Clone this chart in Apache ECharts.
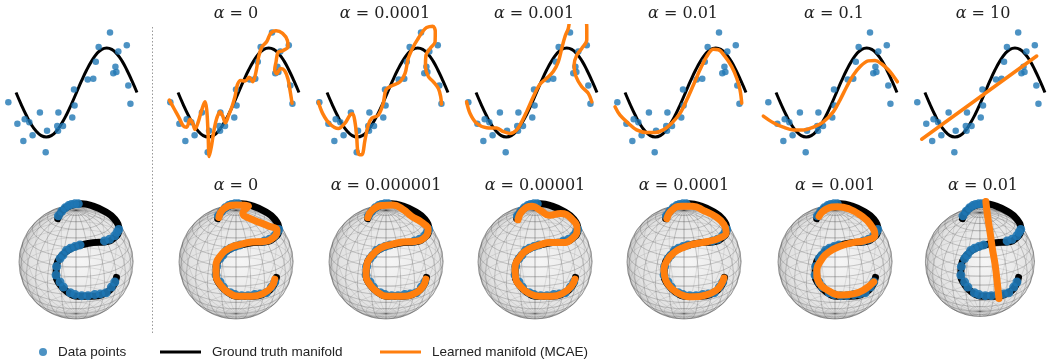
<!DOCTYPE html>
<html>
<head>
<meta charset="utf-8">
<script src="https://cdn.jsdelivr.net/npm/echarts@6/dist/echarts.min.js"></script>
<style>
html, body { margin: 0; padding: 0; background: #fff; }
#chart { width: 1048px; height: 360px; }
</style>
</head>
<body>
<div id="chart"></div>
<script>
// ---- data (top row: sine example) ----
const gtX = [-3.14,-2.88,-2.62,-2.36,-2.09,-1.83,-1.57,-1.31,-1.05,-0.79,-0.52,-0.26,0,0.26,0.52,0.79,1.05,1.31,1.57,1.83,2.09,2.36,2.62,2.88,3.14]
const gtY = [0,-0.26,-0.5,-0.71,-0.87,-0.97,-1,-0.97,-0.87,-0.71,-0.5,-0.26,0,0.26,0.5,0.71,0.87,0.97,1,0.97,0.87,0.71,0.5,0.26,0]

const ptX = [-3.54,-3.07,-2.69,-2.76,-2.45,-2.28,-1.90,-1.53,-1.60,-0.94,-1.00,-0.96,-0.70,-0.22,-0.10,-0.13,0.58,0.87,1.00,1.15,1.74,2.17,2.02,1.91,2.07,2.61,2.69,2.80]
const ptY = [-0.22,-0.70,-0.60,-1.09,-0.67,-0.96,-0.45,-0.86,-1.34,-0.45,-0.75,-0.86,-0.75,-0.56,-0.29,0.07,0.29,0.31,0.69,1.02,1.35,0.92,0.58,0.43,0.46,1.06,0.16,-0.25]

const topAlphas = ['0', '0.0001', '0.001', '0.01', '0.1', '10']

const fitA0 = [[-3.59,-0.17],[-3.35,-0.36],[-3.07,-0.58],[-2.87,-0.75],[-2.69,-0.78],[-2.52,-0.60],[-2.38,-0.69],[-2.26,-0.83],[-2.09,-0.66],[-1.91,-0.39],[-1.74,-0.21],[-1.65,-0.39],[-1.58,-0.92],[-1.52,-1.44],[-1.41,-1.22],[-1.27,-0.84],[-1.13,-0.58],[-0.96,-0.43],[-0.82,-0.53],[-0.68,-0.68],[-0.51,-0.51],[-0.34,-0.32],[-0.18,-0.09],[-0.06,0.17],[0.11,0.27],[0.34,0.26],[0.56,0.34],[0.74,0.24],[0.91,0.47],[1.05,0.81],[1.22,1.03],[1.46,1.14],[1.67,1.33],[1.95,1.39],[2.29,1.33],[2.54,1.17],[2.57,1.03],[2.29,0.94],[2.05,0.90],[1.95,0.69],[1.88,0.51],[1.98,0.42],[2.19,0.54],[2.40,0.49],[2.57,0.30],[2.67,0.06],[2.78,-0.24]]
const fitA1 = [[-3.59,-0.21],[-3.37,-0.47],[-2.99,-0.71],[-2.55,-0.81],[-2.21,-0.69],[-1.95,-0.51],[-1.81,-0.48],[-1.69,-0.66],[-1.60,-0.99],[-1.52,-1.37],[-1.34,-1.40],[-1.17,-1.07],[-1.00,-0.73],[-0.82,-0.58],[-0.48,-0.51],[-0.22,-0.24],[-0.08,0.06],[0.22,0.15],[0.65,0.24],[0.91,0.43],[1.08,0.77],[1.34,1.03],[1.60,1.22],[1.83,1.37],[2.03,1.46],[2.35,1.49],[2.48,1.37],[2.47,1.14],[2.21,0.99],[2.00,0.84],[1.97,0.58],[2.12,0.36],[2.38,0.24],[2.64,0.09],[2.76,-0.09],[2.80,-0.26]]
const fitA2 = [[-3.63,-0.21],[-3.45,-0.47],[-3.11,-0.69],[-2.59,-0.79],[-2.07,-0.80],[-1.72,-0.88],[-1.38,-0.92],[-1.03,-0.84],[-0.77,-0.66],[-0.51,-0.43],[-0.16,-0.09],[0.15,0.17],[0.53,0.32],[0.87,0.47],[1.13,0.69],[1.31,0.99],[1.48,1.26],[1.65,1.44],[1.77,1.67],[2.20,1.85],[2.52,1.71],[2.61,1.44],[2.61,1.18],[2.35,0.99],[2.09,0.84],[1.95,0.62],[2.05,0.36],[2.35,0.13],[2.69,-0.02],[2.87,-0.21]]
const fitA3 = [[-3.66,-0.32],[-3.40,-0.51],[-2.97,-0.69],[-2.54,-0.84],[-2.02,-0.90],[-1.58,-0.90],[-1.15,-0.84],[-0.72,-0.69],[-0.29,-0.47],[0.06,-0.17],[0.41,0.17],[0.75,0.51],[1.10,0.81],[1.45,0.97],[1.71,0.96],[2.05,0.81],[2.40,0.58],[2.66,0.32],[2.83,0.06],[2.92,-0.24]]
const fitA4 = [[-3.80,-0.53],[-3.28,-0.68],[-2.76,-0.78],[-2.24,-0.84],[-1.72,-0.84],[-1.20,-0.78],[-0.68,-0.66],[-0.16,-0.43],[0.18,-0.17],[0.53,0.13],[0.87,0.39],[1.22,0.58],[1.65,0.71],[2.00,0.72],[2.35,0.64],[2.69,0.51],[2.95,0.37],[3.16,0.24]]
const fitA5 = [[-3.31,-1.05],[2.71,0.82]]
const topFits = [fitA0, fitA1, fitA2, fitA3, fitA4, fitA5]

// ---- data (bottom row: curve on the sphere, sphere radius = 1) ----
const bottomAlphas = ['0', '0.000001', '0.00001', '0.0001', '0.001', '0.01']

const sphereTruth = [[-0.32,0.76],[-0.25,0.89],[-0.10,0.99],[0.10,1.02],[0.30,0.98],[0.50,0.89],[0.68,0.75],[0.75,0.57],[0.68,0.43],[0.50,0.35],[0.30,0.34],[0.10,0.30],[-0.10,0.23],[-0.25,0.11],[-0.34,-0.06],[-0.35,-0.24],[-0.29,-0.38],[-0.16,-0.52],[0.04,-0.60],[0.27,-0.60],[0.48,-0.56],[0.64,-0.44],[0.71,-0.27]]
const spherePts = [[-0.31,0.81],[-0.25,0.89],[-0.19,0.95],[-0.13,0.99],[-0.08,1.01],[-0.02,1.02],[0.04,1.02],[0.50,0.37],[0.59,0.40],[0.68,0.46],[0.72,0.52],[0.75,0.57],[0.07,0.30],[-0.02,0.27],[-0.10,0.24],[-0.17,0.20],[-0.23,0.12],[-0.28,0.06],[-0.34,-0.08],[-0.35,-0.23],[-0.28,-0.35],[-0.22,-0.44],[-0.10,-0.54],[-0.02,-0.57],[0.10,-0.59],[0.21,-0.59],[0.33,-0.57],[0.43,-0.56],[0.53,-0.54],[0.62,-0.44],[0.68,-0.35]]

const sFitA = [[-0.30,0.78],[-0.22,0.93],[0.00,1.00],[0.22,0.98],[0.12,0.86],[0.30,0.74],[0.55,0.64],[0.72,0.55],[0.66,0.43],[0.48,0.36],[0.28,0.35],[0.08,0.31],[-0.12,0.24],[-0.27,0.11],[-0.35,-0.06],[-0.35,-0.24],[-0.28,-0.39],[-0.14,-0.53],[0.06,-0.60],[0.28,-0.60],[0.48,-0.55],[0.62,-0.44],[0.68,-0.30]]
const sFitB = [[-0.32,0.78],[-0.25,0.90],[-0.08,0.99],[0.12,1.00],[0.30,0.92],[0.45,0.80],[0.62,0.70],[0.74,0.57],[0.68,0.43],[0.50,0.36],[0.30,0.35],[0.10,0.31],[-0.10,0.24],[-0.25,0.11],[-0.34,-0.06],[-0.35,-0.24],[-0.29,-0.38],[-0.16,-0.52],[0.04,-0.60],[0.27,-0.60],[0.48,-0.56],[0.64,-0.44],[0.70,-0.30]]
const sFitC = [[-0.30,0.74],[-0.22,0.90],[-0.05,0.98],[0.10,0.90],[0.25,0.82],[0.45,0.85],[0.65,0.75],[0.74,0.57],[0.66,0.42],[0.48,0.34],[0.28,0.34],[0.08,0.30],[-0.12,0.22],[-0.27,0.08],[-0.35,-0.10],[-0.34,-0.28],[-0.26,-0.42],[-0.12,-0.54],[0.08,-0.60],[0.30,-0.60],[0.50,-0.54],[0.64,-0.42],[0.70,-0.30]]
const sFitD = [[-0.30,0.76],[-0.22,0.90],[-0.05,0.98],[0.15,0.98],[0.35,0.90],[0.55,0.80],[0.70,0.66],[0.74,0.52],[0.62,0.42],[0.42,0.36],[0.20,0.32],[0.00,0.26],[-0.18,0.16],[-0.30,0.02],[-0.35,-0.16],[-0.32,-0.32],[-0.22,-0.46],[-0.06,-0.57],[0.16,-0.61],[0.38,-0.58],[0.56,-0.50],[0.66,-0.38],[0.70,-0.28]]
const sFitE = [[-0.28,0.80],[-0.15,0.93],[0.05,0.97],[0.25,0.93],[0.45,0.82],[0.62,0.66],[0.70,0.48],[0.55,0.38],[0.32,0.34],[0.10,0.28],[-0.10,0.18],[-0.25,0.02],[-0.32,-0.18],[-0.28,-0.36],[-0.12,-0.50],[0.10,-0.58],[0.32,-0.56],[0.52,-0.48],[0.68,-0.35]]
const sFitF = [[0.11,1.06],[0.14,0.82],[0.19,0.50],[0.23,0.23],[0.28,-0.05],[0.32,-0.37],[0.35,-0.64]]
const sphereFits = [sFitA, sFitB, sFitC, sFitD, sFitE, sFitF]

// ---- layout ----
const topBlackLeft = [16, 178, 327, 476, 625, 776, 925]
const unitX = 19.26, unitY = 44.5
const xMin = -3.85, xMax = 3.3, yMin = -1.5, yMax = 1.5
const sphereCx = [76, 236, 386, 535, 684, 835, 983]
const sphereCy = 262, sphereR = 57
const ELEV = 25 * Math.PI / 180

const BLUE = '#1f77b4', ORANGE = '#ff7f0e'

function project(phi, lam) {
  const cp = Math.cos(phi), sp = Math.sin(phi)
  return [
    cp * Math.sin(lam),
    sp * Math.cos(ELEV) - cp * Math.cos(lam) * Math.sin(ELEV),
    cp * Math.cos(lam) * Math.cos(ELEV) + sp * Math.sin(ELEV)
  ]
}

function wireRuns(pts, c, r, out) {
  let run = [], front = null
  const flush = () => {
    if (run.length > 1) {
      out.push({
        type: 'polyline',
        shape: { points: run },
        style: { fill: null, stroke: front ? 'rgba(70,70,70,0.45)' : 'rgba(90,90,90,0.25)', lineWidth: 0.6 },
        silent: true
      })
    }
  }
  pts.forEach(p => {
    const f = p[2] >= 0
    const xy = [c[0] + r * p[0], c[1] - r * p[1]]
    if (front !== null && f !== front) { run.push(xy); flush(); run = [] }
    front = f
    run.push(xy)
  })
  flush()
}

function renderSphere(params, api) {
  const c = api.coord([0, 0])
  const r = api.size([1, 0])[0]
  const children = [{
    type: 'circle',
    shape: { cx: c[0], cy: c[1], r: r },
    style: {
      fill: new echarts.graphic.RadialGradient(0.55, 0.5, 0.6, [
        { offset: 0, color: '#f5f5f5' },
        { offset: 0.75, color: '#e2e2e2' },
        { offset: 1, color: '#bcbcbc' }
      ]),
      stroke: 'rgba(90,90,90,0.5)', lineWidth: 0.7
    },
    silent: true
  }]
  for (let la = -80; la <= 80; la += 10) {
    const pts = []
    for (let lo = 0; lo <= 360; lo += 5) pts.push(project(la * Math.PI / 180, lo * Math.PI / 180))
    wireRuns(pts, c, r, children)
  }
  for (let lo = 0; lo < 360; lo += 15) {
    const pts = []
    for (let la = -90; la <= 90; la += 5) pts.push(project(la * Math.PI / 180, lo * Math.PI / 180))
    wireRuns(pts, c, r, children)
  }
  return { type: 'group', children: children }
}

const grids = [], xAxes = [], yAxes = [], series = [], titles = []
const axisOff = { show: false }
const padLeft = (-xMin - Math.PI) * unitX
const titleStyle = {
  fontFamily: 'DejaVu Serif', fontSize: 16, fontWeight: 'normal', color: '#222',
  rich: { a: { fontFamily: 'DejaVu Serif', fontSize: 16, fontStyle: 'italic', color: '#222' } }
}

// top row
for (let k = 0; k < 7; k++) {
  grids.push({ left: topBlackLeft[k] - padLeft, top: 92.5 - yMax * unitY, width: (xMax - xMin) * unitX, height: (yMax - yMin) * unitY })
  xAxes.push({ type: 'value', gridIndex: k, min: xMin, max: xMax, ...axisOff })
  yAxes.push({ type: 'value', gridIndex: k, min: yMin, max: yMax, ...axisOff })
  series.push({
    name: 'Ground truth manifold', type: 'line', xAxisIndex: k, yAxisIndex: k,
    data: gtX.map((x, i) => [x, gtY[i]]), smooth: true, showSymbol: false,
    lineStyle: { color: '#000', width: 3 }, itemStyle: { color: '#000' }, z: 2, silent: true
  })
  series.push({
    name: 'Data points', type: 'scatter', xAxisIndex: k, yAxisIndex: k,
    data: ptX.map((x, i) => [x, ptY[i]]), symbolSize: 6.5,
    itemStyle: { color: BLUE }, z: 3, silent: true
  })
  if (k > 0) {
    series.push({
      name: 'Learned manifold (MCAE)', type: 'line', xAxisIndex: k, yAxisIndex: k,
      data: topFits[k - 1], smooth: 0.35, showSymbol: false, clip: true,
      lineStyle: { color: ORANGE, width: 3.5, cap: 'round', join: 'round' }, itemStyle: { color: ORANGE }, z: 4, silent: true
    })
    titles.push({
      text: '{a|α} = ' + topAlphas[k - 1],
      left: topBlackLeft[k] + 58, top: 6, textAlign: 'center', padding: 0, textStyle: titleStyle
    })
  }
}

// bottom row
for (let k = 0; k < 7; k++) {
  const gi = 7 + k
  grids.push({ left: sphereCx[k] - 1.25 * sphereR, top: sphereCy - 1.25 * sphereR, width: 2.5 * sphereR, height: 2.5 * sphereR })
  xAxes.push({ type: 'value', gridIndex: gi, min: -1.25, max: 1.25, ...axisOff })
  yAxes.push({ type: 'value', gridIndex: gi, min: -1.25, max: 1.25, ...axisOff })
  series.push({
    type: 'custom', xAxisIndex: gi, yAxisIndex: gi, data: [[0, 0]],
    renderItem: renderSphere, z: 1, silent: true
  })
  series.push({
    name: 'Ground truth manifold', type: 'line', xAxisIndex: gi, yAxisIndex: gi,
    data: sphereTruth, smooth: true, showSymbol: false,
    lineStyle: { color: '#000', width: 7, cap: 'round' }, itemStyle: { color: '#000' }, z: 2, silent: true
  })
  series.push({
    name: 'Data points', type: 'scatter', xAxisIndex: gi, yAxisIndex: gi,
    data: spherePts, symbolSize: 9,
    itemStyle: { color: BLUE, opacity: 0.9 }, z: 3, silent: true
  })
  if (k > 0) {
    series.push({
      name: 'Learned manifold (MCAE)', type: 'line', xAxisIndex: gi, yAxisIndex: gi,
      data: sphereFits[k - 1], smooth: true, showSymbol: false,
      lineStyle: { color: ORANGE, width: 7, cap: 'round' }, itemStyle: { color: ORANGE }, z: 4, silent: true
    })
    titles.push({
      text: '{a|α} = ' + bottomAlphas[k - 1],
      left: sphereCx[k], top: 178, textAlign: 'center', padding: 0, textStyle: titleStyle
    })
  }
}

const legendText = { fontFamily: 'Liberation Sans', fontSize: 13.5, color: '#222', padding: [0, 0, 0, 6] }

const chart = echarts.init(document.getElementById('chart'), null, { renderer: 'canvas' })
chart.setOption({
  animation: false,
  title: titles,
  grid: grids,
  xAxis: xAxes,
  yAxis: yAxes,
  legend: [
    { data: [{ name: 'Data points', icon: 'circle' }], left: 34, top: 340, itemWidth: 8, itemHeight: 8, textStyle: legendText, selectedMode: false },
    { data: [{ name: 'Ground truth manifold', icon: 'rect' }], left: 155, top: 340, itemWidth: 41, itemHeight: 3, textStyle: legendText, selectedMode: false },
    { data: [{ name: 'Learned manifold (MCAE)', icon: 'rect' }], left: 375, top: 340, itemWidth: 41, itemHeight: 3, textStyle: legendText, selectedMode: false }
  ],
  graphic: [{
    type: 'line', shape: { x1: 152.5, y1: 27, x2: 152.5, y2: 333 },
    style: { stroke: '#999', lineWidth: 1, lineDash: [1.5, 2] }, silent: true
  }],
  series: series
})
</script>
</body>
</html>
